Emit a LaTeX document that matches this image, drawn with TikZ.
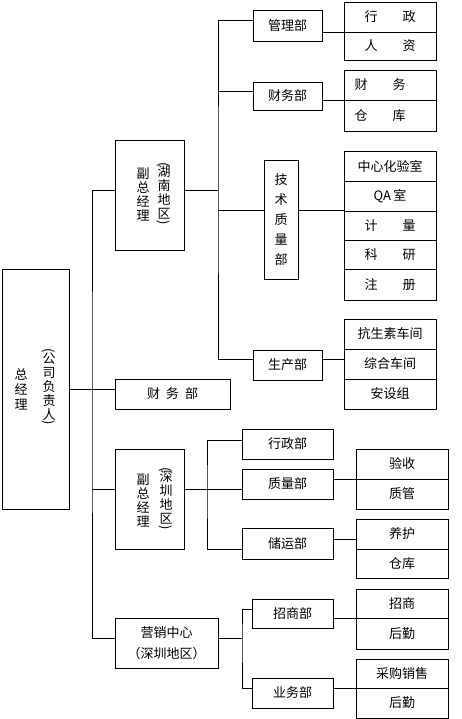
\documentclass[tikz,border=0pt]{standalone}
\usepackage{fontspec}
\setmainfont{Noto Sans CJK SC}
\usepackage{graphicx}
\usepackage{tikz}
\tikzset{
  box/.style={draw, line width=0.9pt, inner sep=0pt, font=\fontsize{13}{15}\selectfont, align=center},
  vcol/.style={inner sep=0pt, align=center, text width=14pt, font=\fontsize{13}{14}\selectfont},
  link/.style={line width=0.9pt}
}
\newcommand{\gap}[2]{#1\hspace{25pt}#2}
\newcommand{\vop}{\rotatebox[origin=c]{-90}{(}}
\newcommand{\vcl}{\rotatebox[origin=c]{-90}{)}}
\begin{document}
\begin{tikzpicture}[x=1pt, y=-1pt]
\useasboundingbox (0,0) rectangle (461,719);
% top level
\node[box, minimum width=67pt, minimum height=240pt] (zjl) at (35.5,389) {};
\node[vcol, font=\fontsize{13}{15}\selectfont] (zjl1) at (21,389) {总\\经\\理};
\node[vcol] (zjl2) at (49,388) {\vop\\[-6pt]公\\司\\负\\责\\人\\[-6pt]\vcl};
\coordinate (trunk) at (92,390);
% second level
\node[box, minimum width=69pt, minimum height=110pt] (hn) at (149.5,195) {};
\node[vcol] (hn1) at (143,194.5) {副\\总\\经\\理};
\node[vcol] (hn2) at (164,194.5) {\vop\\[-6pt]湖\\南\\地\\区\\[-6pt]\vcl};
\node[box, minimum width=115pt, minimum height=30pt] (cwb) at (172.5,394) {财\hspace{6pt}务\hspace{6pt}部};
\node[box, minimum width=69pt, minimum height=100pt] (sz) at (149.5,499) {};
\node[vcol] (sz1) at (143,500) {副\\总\\经\\理};
\node[vcol] (sz2) at (166,499.5) {\vop\\[-6pt]深\\圳\\地\\区\\[-6pt]\vcl};
\node[box, minimum width=103pt, minimum height=50pt, font=\fontsize{13}{21}\selectfont] (yx) at (166.5,643) {营销中心\\（深圳地区）};
% Hunan departments
\node[box, minimum width=69pt, minimum height=31pt] (glb) at (287.5,25.5) {管理部};
\node[box, minimum width=69pt, minimum height=28pt] (cwb1) at (287.5,96) {财务部};
\node[box, minimum width=34pt, minimum height=119pt, font=\fontsize{13}{20}\selectfont] (jszl) at (281,219.5) {技\\术\\质\\量\\部};
\node[box, minimum width=69pt, minimum height=30pt] (scb) at (287.5,365) {生产部};
% Hunan groups
\node[box, minimum width=92pt, minimum height=30pt] (xz) at (390,17) {\gap{行}{政}};
\node[box, minimum width=92pt, minimum height=28pt] (rz) at (390,46) {\gap{人}{资}};
\node[box, minimum width=92pt, minimum height=30pt] (cw) at (390,85) {\gap{财}{务}\hspace{20pt}};
\node[box, minimum width=92pt, minimum height=31pt] (ck) at (390,115.5) {\gap{仓}{库}\hspace{20pt}};
\node[box, minimum width=92pt, minimum height=30pt] (zx) at (390,166) {中心化验室};
\node[box, minimum width=92pt, minimum height=30pt] (qa) at (390,196) {QA\,室};
\node[box, minimum width=92pt, minimum height=29pt] (jl) at (390,225.5) {\gap{计}{量}};
\node[box, minimum width=92pt, minimum height=29pt] (ky) at (390,254.5) {\gap{科}{研}};
\node[box, minimum width=92pt, minimum height=31pt] (zc) at (390,284.5) {\gap{注}{册}};
\node[box, minimum width=92pt, minimum height=30pt] (ks) at (390,334) {抗生素车间};
\node[box, minimum width=92pt, minimum height=30pt] (zh) at (390,364) {综合车间};
\node[box, minimum width=92pt, minimum height=30pt] (as) at (390,394) {安设组};
% Shenzhen departments
\node[box, minimum width=91pt, minimum height=30pt] (xzb) at (287.5,444) {行政部};
\node[box, minimum width=91pt, minimum height=30pt] (zlb) at (287.5,484) {质量部};
\node[box, minimum width=91pt, minimum height=31pt] (cyb) at (287.5,543.5) {储运部};
\node[box, minimum width=81pt, minimum height=29pt] (zsb) at (292.5,613.5) {招商部};
\node[box, minimum width=81pt, minimum height=30pt] (ywb) at (292.5,693) {业务部};
% Shenzhen groups
\node[box, minimum width=92pt, minimum height=30pt] (ys) at (402,464) {验收};
\node[box, minimum width=92pt, minimum height=30pt] (zg) at (402,494) {质管};
\node[box, minimum width=92pt, minimum height=30pt] (yh) at (402,534) {养护};
\node[box, minimum width=92pt, minimum height=29pt] (ck2) at (402,563.5) {仓库};
\node[box, minimum width=92pt, minimum height=29pt] (zs) at (402,603.5) {招商};
\node[box, minimum width=92pt, minimum height=31pt] (hq1) at (402,633.5) {后勤};
\node[box, minimum width=92pt, minimum height=29pt] (cg) at (402,673.5) {采购销售};
\node[box, minimum width=92pt, minimum height=30pt] (hq2) at (402,703) {后勤};
% trunk
\draw[link] ([yshift=5pt]hn.west) -| (trunk) |- ([yshift=5pt]yx.west);
\draw[link] ([yshift=10pt]sz.west) -- ([yshift=10pt]sz.west -| trunk);
\draw[link] (zjl.east) -- (zjl.east -| cwb.west);
% Hunan
\coordinate (hnbus) at (218,190);
\draw[link] ([yshift=5pt]hn.east) -- (hnbus);
\draw[link] ([yshift=5.5pt]glb.west) -| (hnbus) |- ([yshift=6pt]scb.west);
\draw[link] ([yshift=5pt]cwb1.west) -- ([yshift=5pt]cwb1.west -| hnbus);
\draw[link] ([yshift=9.5pt]jszl.west) -- ([yshift=9.5pt]jszl.west -| hnbus);
\draw[link] (glb.east |- xz.south) -- (xz.south west);
\draw[link] (cwb1.east |- cw.south) -- (cw.south west);
\draw[link] (jszl.east |- jl.north) -- (jl.north west);
\draw[link] ([yshift=6pt]scb.east) -- ([yshift=6pt]scb.east -| zh.west);
% Shenzhen
\coordinate (szbus) at (207,489);
\draw[link] ([yshift=10pt]sz.east) -- (szbus);
\draw[link] ([yshift=4pt]xzb.west) -| (szbus) |- ([yshift=-5.5pt]cyb.west);
\draw[link] ([yshift=-5pt]zlb.west) -- ([yshift=-5pt]zlb.west -| szbus);
\draw[link] (zlb.east |- ys.south) -- (ys.south west);
\draw[link] ([yshift=4.5pt]cyb.east) -- ([yshift=4.5pt]cyb.east -| yh.west);
% marketing
\coordinate (yxbus) at (242,638);
\draw[link] ([yshift=5pt]yx.east) -- (yxbus);
\draw[link] ([yshift=4.5pt]zsb.west) -| (yxbus) |- ([yshift=5pt]ywb.west);
\draw[link] (zsb.east |- zs.south) -- (zs.south west);
\draw[link] (ywb.east |- cg.south) -- (cg.south west);
\end{tikzpicture}
\end{document}
